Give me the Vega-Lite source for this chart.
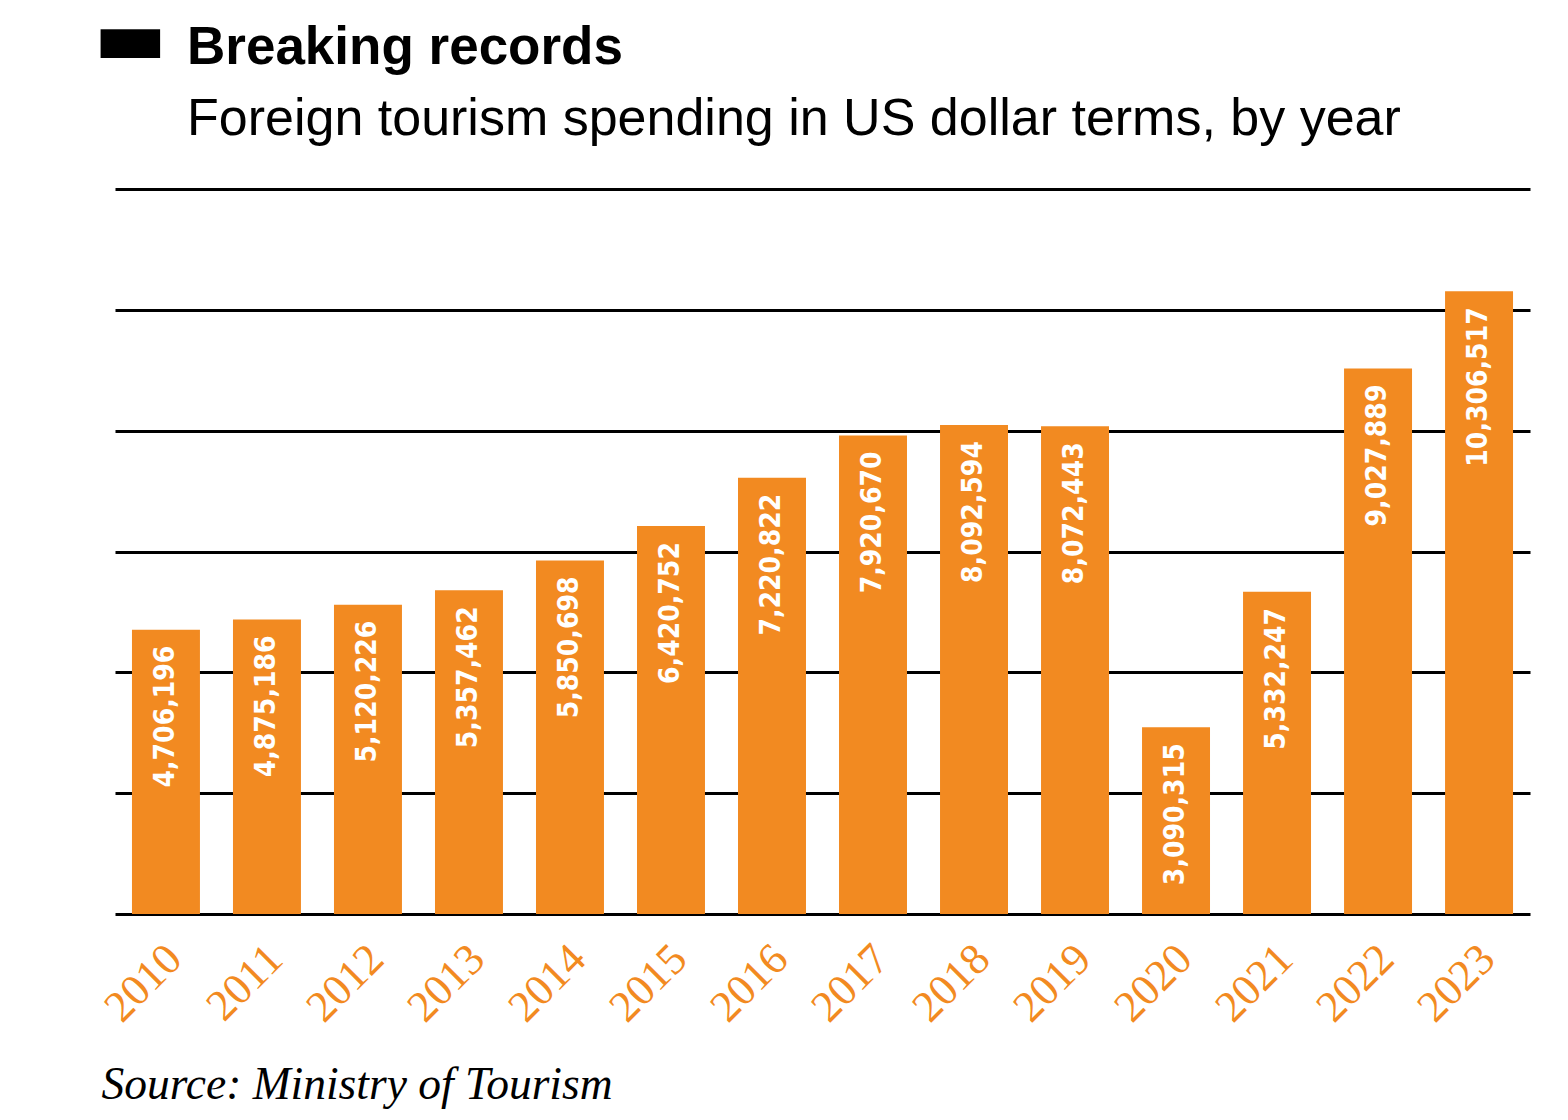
{
  "$schema": "https://vega.github.io/schema/vega-lite/v6.json",
  "width": 1415,
  "height": 725,
  "autosize": {"type": "none"},
  "padding": {"left": 115, "top": 189, "right": 38, "bottom": 206},
  "background": "white",
  "config": {"view": {"stroke": null}},
  "title": {
    "text": "Breaking records",
    "subtitle": "Foreign tourism spending in US dollar terms, by year",
    "anchor": "start",
    "frame": "group",
    "dx": 72,
    "dy": 184,
    "font": "Liberation Sans",
    "fontSize": 53,
    "fontWeight": "bold",
    "color": "black",
    "subtitleFont": "Liberation Sans",
    "subtitleFontSize": 52,
    "subtitleColor": "black",
    "subtitlePadding": 19,
    "offset": 40
  },
  "data": {
    "values": [
      {"year": "2010", "value": 4706196},
      {"year": "2011", "value": 4875186},
      {"year": "2012", "value": 5120226},
      {"year": "2013", "value": 5357462},
      {"year": "2014", "value": 5850698},
      {"year": "2015", "value": 6420752},
      {"year": "2016", "value": 7220822},
      {"year": "2017", "value": 7920670},
      {"year": "2018", "value": 8092594},
      {"year": "2019", "value": 8072443},
      {"year": "2020", "value": 3090315},
      {"year": "2021", "value": 5332247},
      {"year": "2022", "value": 9027889},
      {"year": "2023", "value": 10306517}
    ]
  },
  "layer": [
    {
      "mark": {"type": "bar", "color": "#F28A21"},
      "encoding": {
        "x": {
          "field": "year",
          "type": "nominal",
          "scale": {"paddingInner": 0.327, "paddingOuter": 0.168},
          "axis": {
            "title": "Source: Ministry of Tourism",
            "titleFont": "Liberation Serif",
            "titleFontStyle": "italic",
            "titleFontWeight": "normal",
            "titleFontSize": 45.5,
            "titleColor": "black",
            "titleAnchor": "start",
            "titleAlign": "left",
            "titleX": -14,
            "titleY": 184,
            "titleBaseline": "alphabetic",
            "labelAngle": -45,
            "labelAlign": "right",
            "labelBaseline": "middle",
            "labelFont": "Liberation Serif",
            "labelFontSize": 44,
            "labelColor": "#F28A21",
            "labelPadding": 38,
            "labelOffset": 9,
            "domain": false,
            "ticks": false,
            "grid": false
          }
        },
        "y": {
          "field": "value",
          "type": "quantitative",
          "scale": {"domain": [0, 12000000]},
          "axis": {
            "title": "▬",
            "titleAngle": 0,
            "titleX": -22,
            "titleY": -149,
            "titleAlign": "left",
            "titleBaseline": "middle",
            "titleFont": "DejaVu Sans",
            "titleFontSize": 78,
            "titleFontWeight": "normal",
            "titleColor": "black",
            "labels": false,
            "ticks": false,
            "domain": false,
            "grid": true,
            "gridColor": "black",
            "gridWidth": 2.8,
            "gridOpacity": 1,
            "values": [0, 2000000, 4000000, 6000000, 8000000, 10000000, 12000000]
          }
        }
      }
    },
    {
      "mark": {
        "type": "text",
        "angle": 270,
        "align": "right",
        "baseline": "middle",
        "dx": -16,
        "color": "white",
        "font": "DejaVu Sans Condensed, Roboto Condensed, Roboto",
        "fontWeight": "bold",
        "fontSize": 28
      },
      "encoding": {
        "x": {"field": "year", "type": "nominal"},
        "y": {"field": "value", "type": "quantitative"},
        "text": {"field": "value", "type": "quantitative", "format": ","}
      }
    }
  ]
}
